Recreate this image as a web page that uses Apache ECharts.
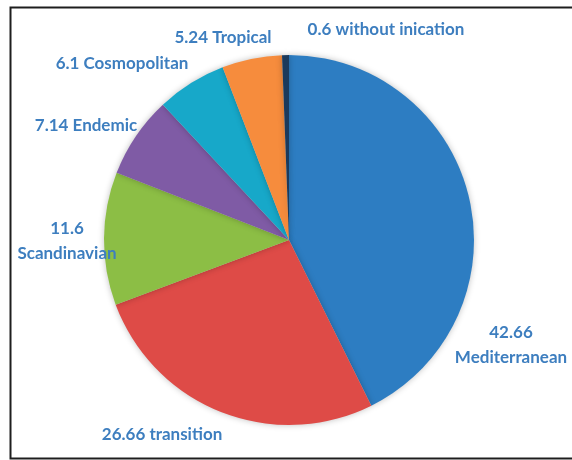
<!DOCTYPE html>
<html>
<head>
<meta charset="utf-8">
<script src="https://cdn.jsdelivr.net/npm/echarts@6/dist/echarts.min.js"></script>
<style>
  html, body { margin: 0; padding: 0; background: #fff; }
  #chart { width: 572px; height: 460px; }
</style>
</head>
<body>
<div id="chart"></div>
<script>
// slices, clockwise from 12 o'clock
const names = ['Mediterranean', 'transition', 'Scandinavian', 'Endemic', 'Cosmopolitan', 'Tropical', 'without inication'];
const values = [42.66, 26.66, 11.6, 7.14, 6.1, 5.24, 0.6];
const colors = ['#2D7DC2', '#DE4B47', '#8CBE45', '#7F5BA5', '#17A8C9', '#F68C3D', '#1B3A5C'];
const twoLine = ['Mediterranean', 'Scandinavian'];

// where each label sits (centre of text), like Excel's best fit
const labelPos = [[511, 345], [162, 435], [67, 241], [86, 126], [122, 64], [223, 38], [386, 30]];

const chart = echarts.init(document.getElementById('chart'));

const option = {
  animation: false,
  color: colors,
  graphic: [
    {
      type: 'rect',
      shape: { x: 10.5, y: 7.5, width: 620, height: 451 },
      style: { fill: 'none', stroke: '#1e1e1e', lineWidth: 2 },
      z: 10
    }
  ],
  series: [
    {
      type: 'pie',
      center: [289, 240],
      radius: 185,
      startAngle: 90,
      clockwise: true,
      itemStyle: {
        borderWidth: 0,
        shadowBlur: 6,
        shadowColor: 'rgba(0,0,0,0.25)'
      },
      emphasis: { disabled: true },
      label: {
        show: true,
        position: 'outside',
        overflow: 'none',
        color: '#3D7EBF',
        fontFamily: 'Lato',
        fontWeight: 'bold',
        fontSize: 17,
        lineHeight: 25,
        formatter: p => twoLine.includes(p.name) ? p.value + '\n' + p.name : p.value + ' ' + p.name
      },
      labelLine: { show: false },
      labelLayout: params => {
        const pos = labelPos[params.dataIndex];
        return { x: pos[0], y: pos[1], align: 'center', verticalAlign: 'middle', moveOverlap: false };
      },
      data: names.map((n, i) => ({ name: n, value: values[i] }))
    }
  ]
};

chart.setOption(option);
</script>
</body>
</html>
